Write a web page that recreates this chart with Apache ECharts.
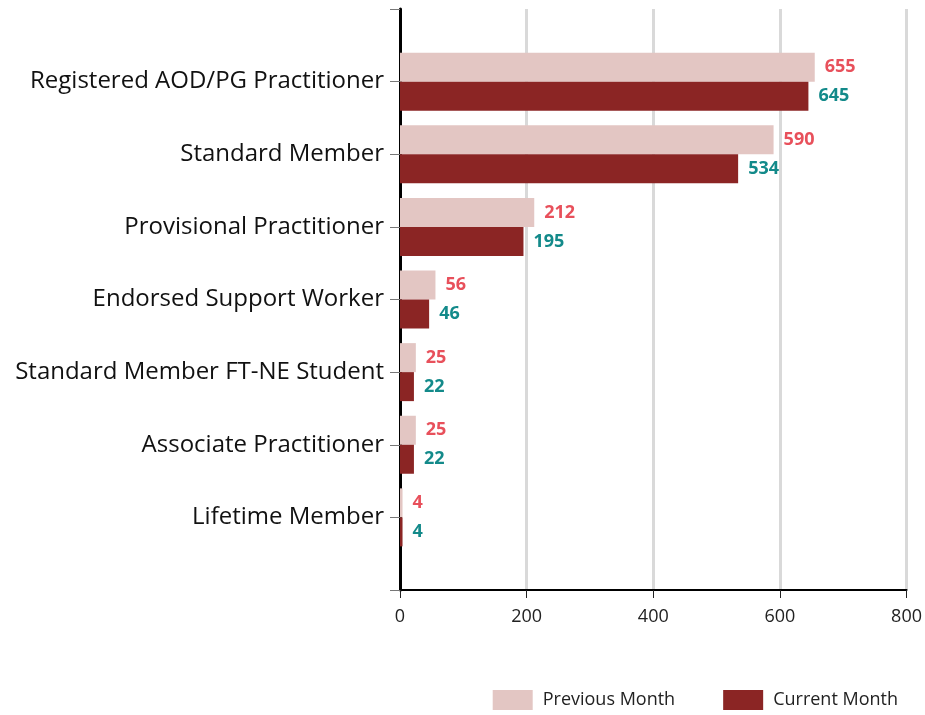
<!DOCTYPE html>
<html>
<head>
<meta charset="utf-8">
<script src="https://cdn.jsdelivr.net/npm/echarts@6/dist/echarts.min.js"></script>
<style>
  html, body { margin: 0; padding: 0; background: #fff; }
  #chartContainer { width: 925px; height: 715px; }
</style>
</head>
<body>
<div id="chartContainer"></div>
<script>
// blank entries at both ends give the empty space above / below like the original
var memberTypes = ['', 'Registered AOD/PG Practitioner', 'Standard Member', 'Provisional Practitioner',
  'Endorsed Support Worker', 'Standard Member FT-NE Student', 'Associate Practitioner', 'Lifetime Member', ''];
var previousMonth = [null, 655, 590, 212, 56, 25, 25, 4, null];
var currentMonth = [null, 645, 534, 195, 46, 22, 22, 4, null];
var xTicks = [0, 200, 400, 600, 800];

var chartDom = document.getElementById('chartContainer');
var chart = echarts.init(chartDom);
var fontName = '"Open Sans", "Noto Sans", sans-serif';

var option = {
  animation: false,
  textStyle: { fontFamily: fontName },
  legend: {
    right: 22,
    bottom: 0,
    icon: 'rect',
    itemWidth: 40,
    itemHeight: 20,
    itemGap: 48,
    textStyle: { fontSize: 18, color: '#222', fontFamily: fontName, padding: [0, 0, 0, 5] },
    data: ['Previous Month', 'Current Month']
  },
  grid: {
    left: 400,
    right: 16,
    top: 9,
    bottom: 125
  },
  xAxis: {
    type: 'value',
    min: xTicks[0],
    max: xTicks[xTicks.length - 1],
    interval: 200,
    axisLine: { show: true, lineStyle: { color: '#000', width: 2 } },
    axisTick: { show: true, length: 8, lineStyle: { color: '#222' } },
    axisLabel: { fontSize: 18, color: '#222', margin: 18, fontFamily: fontName },
    splitLine: { show: true, lineStyle: { color: '#d9d9d9', width: 3 } }
  },
  yAxis: {
    type: 'category',
    data: memberTypes,
    inverse: true,
    boundaryGap: false,
    axisLine: { show: true, lineStyle: { color: '#000', width: 3 } },
    axisTick: { show: true, length: 10, lineStyle: { color: '#777' } },
    axisLabel: { fontSize: 24, color: '#111', margin: 16, fontFamily: fontName },
    splitLine: { show: false }
  },
  series: [{
    name: 'Previous Month',
    type: 'bar',
    data: previousMonth,
    barWidth: 29,
    barGap: '0%',
    itemStyle: { color: '#e3c6c3' },
    label: {
      show: true,
      position: 'right',
      distance: 10,
      color: '#e8505b',
      fontWeight: 'bold',
      fontSize: 18,
      fontFamily: fontName
    }
  }, {
    name: 'Current Month',
    type: 'bar',
    data: currentMonth,
    barWidth: 29,
    itemStyle: { color: '#8b2524' },
    label: {
      show: true,
      position: 'right',
      distance: 10,
      color: '#138a8a',
      fontWeight: 'bold',
      fontSize: 18,
      fontFamily: fontName
    }
  }]
};
chart.setOption(option);
</script>
</body>
</html>
